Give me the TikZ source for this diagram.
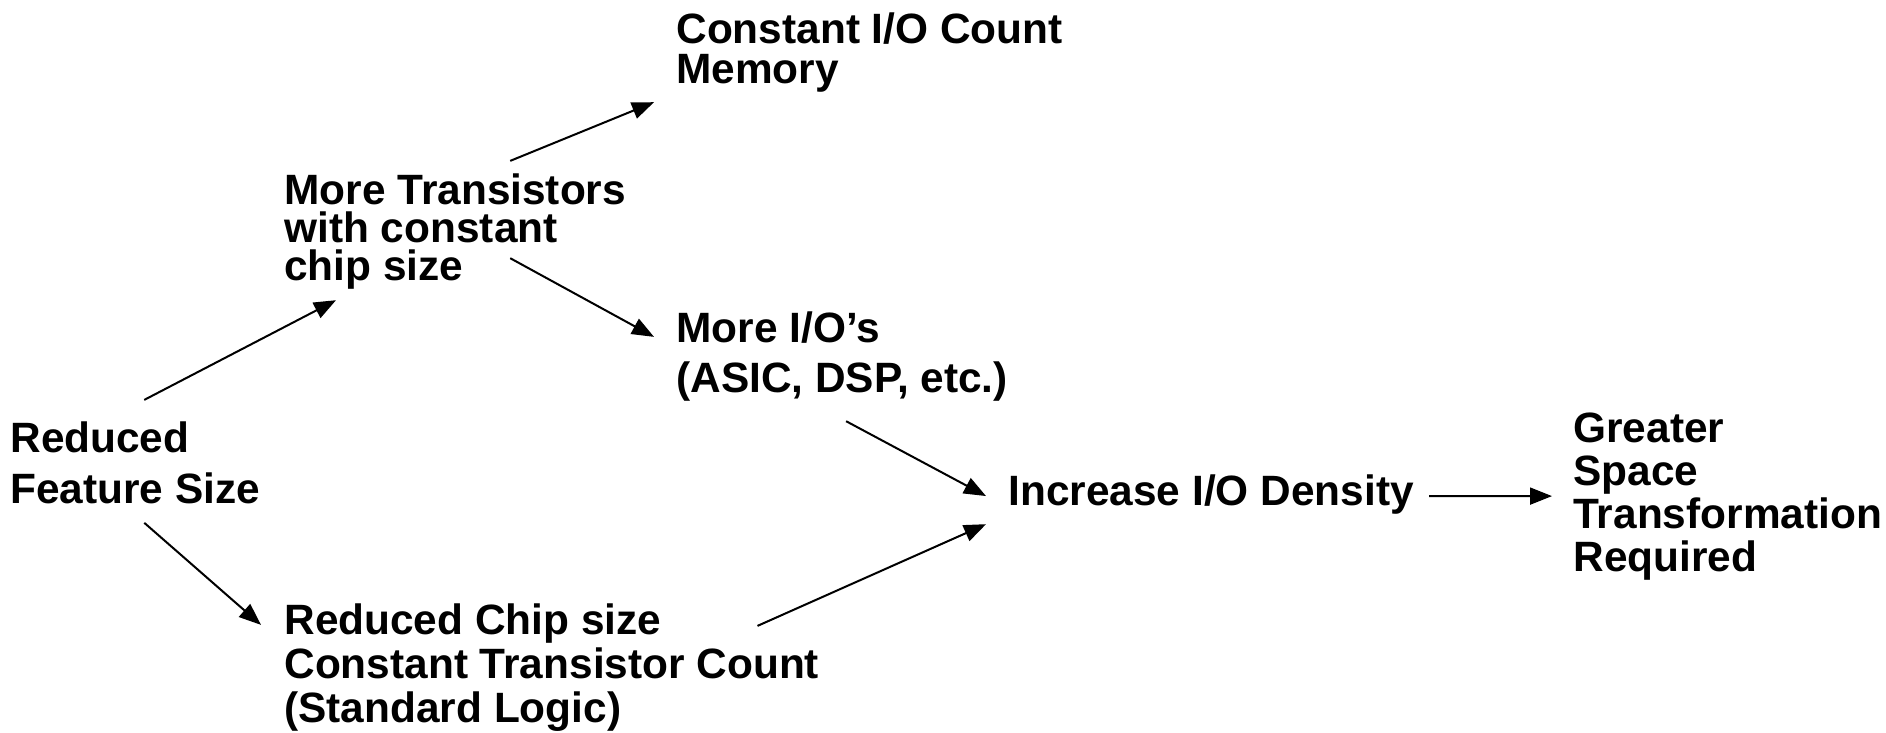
\documentclass[tikz,border=0pt]{standalone}
\usepackage{fontspec}
\setmainfont{Liberation Sans}
\usetikzlibrary{arrows.meta}
\begin{document}
\begin{tikzpicture}[x=0.5pt,y=-0.5pt,
		lbl/.style={font=\bfseries\fontsize{21.2pt}{#1}\selectfont,align=left,inner sep=0pt,anchor=base west},
		arr/.style={-{Triangle[length=11pt,width=8.5pt]},line width=1pt}]
		\useasboundingbox (0,0) rectangle (1886,733);
		% text blocks, placed by the baseline of their last line
		\node[lbl=25.5pt] (feat) at (10,503) {Reduced\\Feature Size};
		\node[lbl=19pt] (trans) at (284,280) {More Transistors\\with constant\\chip size};
		\node[lbl=20.5pt] (mem) at (676,84) {Constant I/O Count\\Memory};
		\node[lbl=25pt] (moreio) at (676,392) {More I/O’s\\(ASIC, DSP, etc.)};
		\node[lbl=22pt] (chip) at (284,722) {Reduced Chip size\\Constant Transistor Count\\(Standard Logic)};
		\node[lbl=21.2pt] (dens) at (1008,505) {Increase I/O Density};
		\node[lbl=21.5pt] (space) at (1573,571) {Greater\\Space\\Transformation\\Required};
		% arrows
		\draw[arr] ([shift={(9,-21)}]feat.north) -- ([shift={(52,11)}]trans.south west);
		\draw[arr] ([shift={(9,19)}]feat.south) -- ([shift={(-23,22)}]chip.north west);
		\draw[arr] ([shift={(55,-12)}]trans.north) -- ([shift={(-22,9)}]mem.south west);
		\draw[arr] ([shift={(55,-31)}]trans.south) -- ([shift={(-22,26)}]moreio.north west);
		\draw[arr] ([shift={(4,20)}]moreio.south) -- ([shift={(-22,2)}]dens.west);
		\draw[arr] ([shift={(-62,23)}]chip.north east) -- ([shift={(-22,10)}]dens.south west);
		\draw[arr] ([shift={(15,2)}]dens.east) -- ([shift={(-21,0)}]space.west);
	\end{tikzpicture}
\end{document}
